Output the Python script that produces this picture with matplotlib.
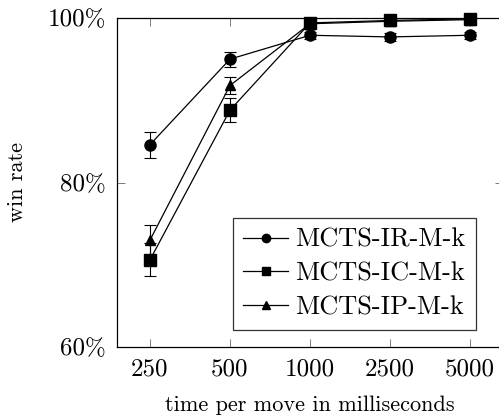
import matplotlib
matplotlib.use("Agg")
import matplotlib.pyplot as plt
from matplotlib.ticker import FuncFormatter
from matplotlib.lines import Line2D

plt.rcParams['font.family'] = ['cmr10', 'DejaVu Serif']
plt.rcParams['mathtext.fontset'] = 'cm'
plt.rcParams['axes.unicode_minus'] = False

categories = ["250", "500", "1000", "2500", "5000"]
series_names = ["MCTS-IR-M-k", "MCTS-IC-M-k", "MCTS-IP-M-k"]
ir_vals = [84.6, 95.0, 97.9, 97.7, 97.9]
ir_err = [1.6, 0.9, 0.4, 0.5, 0.4]
ic_vals = [70.6, 88.8, 99.4, 99.7, 99.9]
ic_err = [2.0, 1.5, 0.2, 0.3, 0.3]
ip_vals = [73.0, 91.8, 99.3, 99.6, 99.8]
ip_err = [1.8, 1.0, 0.3, 0.3, 0.3]
y_ticks = [60, 80, 100]

fig = plt.figure(figsize=(4.99, 4.20), dpi=100)
L, R, T, B = 117, 503, 18, 347
ax = fig.add_axes([L/499, 1-B/420, (R-L)/499, (B-T)/420])

x = list(range(len(categories)))
markers = ["o", "s", "^"]
msizes = [8, 8, 7]
handles = []
for vals, err, mk, ms, name in zip([ir_vals, ic_vals, ip_vals], [ir_err, ic_err, ip_err],
                                    markers, msizes, series_names):
    ax.errorbar(x, vals, yerr=err, color="black", marker=mk, markersize=ms,
                linewidth=0.9, elinewidth=0.8, capsize=4, capthick=0.8,
                clip_on=False, zorder=3)
    handles.append(Line2D([], [], color="black", marker=mk, markersize=ms*0.75,
                          linewidth=0.9, label=name))

ax.set_xlim(-0.4125, 4.4125)
ax.set_ylim(60, 100)
ax.set_xticks(x)
ax.set_xticklabels(categories)
ax.set_yticks(y_ticks)
ax.yaxis.set_major_formatter(FuncFormatter(lambda v, p: f"{int(v)}%"))
ax.tick_params(direction="in", length=6, width=0.6, color="#666666",
               top=True, right=True, labelsize=18, pad=8)
for s in ax.spines.values():
    s.set_linewidth(0.9)

ax.set_ylabel("win rate", fontsize=16, labelpad=15)
ax.set_xlabel("time per move in milliseconds", fontsize=16, labelpad=11)

leg = ax.legend(handles=handles, loc="lower right",
                bbox_to_anchor=((476-L)/(R-L), (B-330)/(B-T)),
                fontsize=19, frameon=True, fancybox=False, edgecolor="black",
                handlelength=1.7, handletextpad=0.27, borderpad=0.4, labelspacing=0.38,
                borderaxespad=0)
leg.get_frame().set_linewidth(0.9)

fig.savefig("out.png", dpi=100)
